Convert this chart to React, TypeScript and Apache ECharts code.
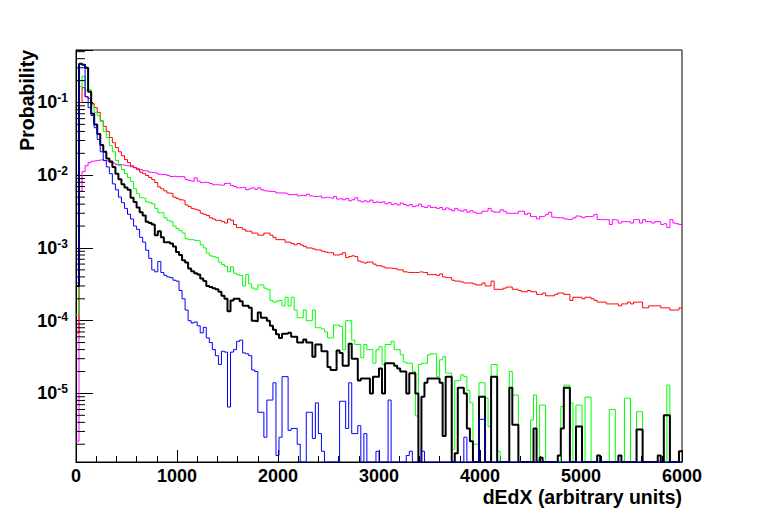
import React, { useEffect, useRef } from "react";
import * as echarts from "echarts";

// Histogram binning (x in arbitrary dEdX units)
const BIN_WIDTH = 30;
const X_MIN = 0;
const X_MAX = 6000;
const X_TICK_INTERVAL = 1000;
const Y_MIN = 1.14e-6;
const Y_MAX = 0.527;

const xTitle = "dEdX (arbitrary units)";
const yTitle = "Probability";

// Probability per bin (200 bins of 30 units); 0 = empty bin
const magentaValues = [
  2.2e-6, 6.0e-3, 1.12e-2, 1.35e-2, 1.49e-2, 1.56e-2, 1.59e-2, 1.61e-2, 1.64e-2, 1.59e-2,
  1.56e-2, 1.49e-2, 1.46e-2, 1.40e-2, 1.40e-2, 1.38e-2, 1.35e-2, 1.33e-2, 1.30e-2, 1.27e-2,
  1.23e-2, 1.19e-2, 1.15e-2, 1.14e-2, 1.10e-2, 1.08e-2, 1.07e-2, 1.03e-2, 1.02e-2, 1.02e-2,
  9.9e-3, 9.6e-3, 9.7e-3, 9.5e-3, 9.6e-3, 9.5e-3, 8.7e-3, 8.5e-3, 8.3e-3, 9.2e-3,
  8.3e-3, 7.9e-3, 8.0e-3, 7.9e-3, 7.7e-3, 7.4e-3, 7.4e-3, 7.3e-3, 7.3e-3, 7.7e-3,
  7.8e-3, 7.2e-3, 7.0e-3, 6.7e-3, 6.8e-3, 6.8e-3, 6.3e-3, 6.5e-3, 6.7e-3, 6.4e-3,
  6.7e-3, 6.3e-3, 6.1e-3, 6.0e-3, 6.0e-3, 5.9e-3, 5.7e-3, 5.7e-3, 5.7e-3, 5.6e-3,
  5.4e-3, 5.4e-3, 5.5e-3, 5.2e-3, 5.3e-3, 5.2e-3, 5.5e-3, 5.2e-3, 5.1e-3, 5.1e-3,
  5.2e-3, 4.9e-3, 5.0e-3, 4.9e-3, 4.8e-3, 5.1e-3, 4.7e-3, 4.8e-3, 4.6e-3, 4.8e-3,
  4.45e-3, 4.6e-3, 4.9e-3, 4.45e-3, 4.3e-3, 4.45e-3, 4.3e-3, 4.55e-3, 4.2e-3, 4.3e-3,
  4.2e-3, 4.3e-3, 4.05e-3, 4.2e-3, 3.95e-3, 4.05e-3, 3.9e-3, 4.15e-3, 3.95e-3, 3.8e-3,
  3.95e-3, 3.7e-3, 3.8e-3, 4.0e-3, 3.7e-3, 3.6e-3, 3.8e-3, 3.6e-3, 3.65e-3, 3.5e-3,
  3.6e-3, 3.35e-3, 3.55e-3, 3.4e-3, 3.25e-3, 3.5e-3, 3.3e-3, 3.2e-3, 3.35e-3, 3.1e-3,
  3.25e-3, 3.1e-3, 3.0e-3, 3.0e-3, 3.2e-3, 3.2e-3, 3.5e-3, 3.2e-3, 3.1e-3, 3.1e-3,
  3.35e-3, 3.2e-3, 3.0e-3, 3.0e-3, 3.0e-3, 3.0e-3, 3.2e-3, 3.2e-3, 2.9e-3, 3.0e-3,
  2.7e-3, 2.7e-3, 2.5e-3, 2.7e-3, 2.75e-3, 2.9e-3, 3.1e-3, 2.65e-3, 2.6e-3, 2.6e-3,
  2.6e-3, 2.5e-3, 2.45e-3, 2.5e-3, 2.6e-3, 2.75e-3, 2.7e-3, 2.6e-3, 2.7e-3, 2.7e-3,
  2.75e-3, 2.9e-3, 2.45e-3, 2.45e-3, 2.45e-3, 2.45e-3, 2.1e-3, 2.45e-3, 2.4e-3, 2.2e-3,
  2.3e-3, 2.3e-3, 2.3e-3, 2.2e-3, 2.45e-3, 2.45e-3, 2.2e-3, 2.45e-3, 2.3e-3, 2.3e-3,
  2.2e-3, 2.3e-3, 2.3e-3, 2.1e-3, 2.15e-3, 1.9e-3, 2.45e-3, 2.2e-3, 2.15e-3, 2.1e-3,
];

const redValues = [
  6.8e-5, 0.10, 0.16, 0.12, 0.113, 0.097, 0.085, 0.073, 0.056, 0.047,
  0.040, 0.033, 0.028, 0.024, 0.021, 0.0185, 0.0164, 0.0149, 0.0135, 0.0127,
  0.0119, 0.0110, 0.0105, 0.0099, 0.0093, 0.0087, 0.0079, 0.0069, 0.0065, 0.0061,
  0.0057, 0.0056, 0.0050, 0.0048, 0.0046, 0.0045, 0.0039, 0.0037, 0.0035, 0.0034,
  0.0033, 0.0030, 0.0029, 0.0028, 0.0026, 0.0025, 0.0024, 0.0024, 0.0023, 0.0022,
  0.0025, 0.0024, 0.0021, 0.0019, 0.0019, 0.0018, 0.0017, 0.0017, 0.0016, 0.0016,
  0.0015, 0.0015, 0.0016, 0.0016, 0.0015, 0.0014, 0.0013, 0.0013, 0.0013, 0.0012,
  0.0012, 0.00115, 0.0011, 0.00115, 0.0011, 0.00105, 0.0010, 0.0010, 0.00097, 0.00094,
  0.00094, 0.00090, 0.00088, 0.00086, 0.00086, 0.00080, 0.00080, 0.00082, 0.00086, 0.00074,
  0.00076, 0.00078, 0.00076, 0.00066, 0.00064, 0.00062, 0.00064, 0.00064, 0.00060, 0.00057,
  0.00057, 0.00055, 0.00053, 0.00053, 0.00052, 0.00052, 0.00050, 0.00050, 0.00047, 0.00046,
  0.00046, 0.00046, 0.00046, 0.00047, 0.00046, 0.00046, 0.00043, 0.00043, 0.00043, 0.00042,
  0.00044, 0.00040, 0.00039, 0.00039, 0.00036, 0.00035, 0.00035, 0.00034, 0.00033, 0.00033,
  0.00033, 0.00032, 0.00031, 0.00031, 0.00033, 0.00030, 0.00030, 0.00035, 0.00027, 0.00027,
  0.00027, 0.00028, 0.00029, 0.00029, 0.00027, 0.00027, 0.00026, 0.00025, 0.00025, 0.00026,
  0.00025, 0.00025, 0.00023, 0.00023, 0.00024, 0.00022, 0.00022, 0.00022, 0.00023, 0.00024,
  0.00024, 0.00023, 0.00023, 0.00019, 0.00021, 0.00021, 0.00021, 0.00020, 0.00021, 0.00021,
  0.00020, 0.00019, 0.00018, 0.00018, 0.00018, 0.00017, 0.00017, 0.00017, 0.00017, 0.00016,
  0.00017, 0.00017, 0.00018, 0.00017, 0.00018, 0.00018, 0.00018, 0.00015, 0.00015, 0.00016,
  0.00016, 0.00016, 0.00016, 0.00015, 0.00015, 0.00015, 0.00014, 0.00014, 0.00014, 0.00015,
];

const greenValues = [
  1.2e-4, 0.165, 0.23, 0.15, 0.15, 0.094, 0.073, 0.066, 0.055, 0.040,
  0.033, 0.0255, 0.021, 0.016, 0.0135, 0.012, 0.0105, 0.0093, 0.0082, 0.0065,
  0.0056, 0.0049, 0.0048, 0.0043, 0.0042, 0.00405, 0.0035, 0.00305, 0.00305, 0.0026,
  0.0024, 0.0023, 0.0020, 0.00185, 0.00173, 0.0016, 0.00134, 0.0013, 0.0013, 0.00127,
  0.00125, 0.0011, 0.0010, 0.00085, 0.00078, 0.00076, 0.00074, 0.00064, 0.00059, 0.00056,
  0.00047, 0.00055, 0.00045, 0.00043, 0.00042, 0.00030, 0.00043, 0.00032, 0.00028, 0.00027,
  0.00031, 0.00031, 0.00028, 0.00027, 0.00019, 0.00018, 0.000185, 0.00019, 0.00016, 0.00021,
  0.00016, 0.00021, 0.00014, 0.00011, 0.00011, 0.00014, 0.00010, 0.00010, 0.00014, 8.0e-5,
  8.0e-5, 7.7e-5, 7.0e-5, 5.8e-5, 5.8e-5, 8.7e-5, 8.7e-5, 8.3e-5, 4.0e-5, 1.0e-4,
  1.0e-4, 5.4e-5, 4.7e-5, 4.7e-5, 3.1e-5, 4.7e-5, 4.0e-5, 4.0e-5, 2.6e-5, 4.0e-5,
  4.4e-5, 2.5e-5, 4.7e-5, 4.7e-5, 5.2e-5, 4.0e-5, 4.0e-5, 3.4e-5, 2.7e-5, 2.6e-5,
  2.6e-5, 2.0e-5, 4.9e-6, 2.5e-5, 2.6e-5, 2.6e-5, 3.4e-5, 3.5e-5, 3.5e-5, 1.7e-5,
  2.9e-5, 3.2e-5, 1.9e-5, 1.9e-5, 1.7e-6, 1.5e-5, 1.5e-5, 1.8e-5, 1.7e-5, 1.1e-5,
  7.4e-6, 2.0e-6, 2.0e-6, 1.4e-5, 1.4e-5, 8.6e-6, 3.5e-6, 2.5e-5, 2.5e-5, 1.6e-6,
  0, 0, 0, 2.0e-5, 9.5e-6, 9.5e-6, 0, 0, 0, 0,
  4.3e-6, 9.5e-6, 0, 6.9e-6, 6.9e-6, 0, 0, 0, 0, 0,
  6.6e-6, 1.3e-5, 1.3e-5, 7.4e-6, 0, 6.9e-6, 6.9e-6, 0, 8.9e-6, 8.9e-6,
  0, 0, 0, 0, 0, 0, 6.0e-6, 6.0e-6, 0, 0,
  0, 8.6e-6, 8.6e-6, 0, 0, 5.6e-6, 5.6e-6, 0, 0, 0,
  0, 0, 0, 0, 0, 1.3e-5, 0, 0, 0, 0,
];

const blackValues = [
  3.0e-4, 0.34, 0.33, 0.30, 0.14, 0.07, 0.05, 0.037, 0.026, 0.021,
  0.017, 0.0155, 0.013, 0.0105, 0.0088, 0.0075, 0.0068, 0.0063, 0.0049, 0.0043,
  0.0036, 0.0031, 0.0028, 0.0023, 0.0022, 0.0021, 0.0015, 0.0017, 0.0014, 0.0012,
  0.0012, 0.00115, 0.00105, 0.00088, 0.00080, 0.00068, 0.00063, 0.00052, 0.00048, 0.00045,
  0.00043, 0.00038, 0.00035, 0.00030, 0.00029, 0.00028, 0.00027, 0.00025, 0.00022, 0.00020,
  0.000135, 0.00019, 0.00020, 0.00020, 0.000185, 0.00016, 0.00016, 0.00015, 0.00010, 9.8e-5,
  0.00013, 0.00011, 0.00011, 0.00010, 8.5e-5, 7.5e-5, 6.5e-5, 5.8e-5, 6.6e-5, 6.6e-5,
  6.8e-5, 6.0e-5, 6.0e-5, 5.0e-5, 5.0e-5, 5.5e-5, 5.0e-5, 5.0e-5, 3.2e-5, 4.7e-5,
  4.7e-5, 3.8e-5, 3.8e-5, 2.3e-5, 2.1e-5, 2.1e-5, 3.9e-5, 3.6e-5, 2.4e-5, 2.4e-5,
  4.8e-5, 3.0e-5, 3.0e-5, 1.5e-5, 1.6e-5, 1.6e-5, 1.6e-5, 1.0e-5, 1.7e-5, 1.7e-5,
  2.2e-5, 1.0e-5, 2.6e-5, 2.6e-5, 2.6e-5, 2.4e-5, 2.2e-5, 2.0e-5, 2.0e-5, 1.0e-5,
  1.9e-5, 1.9e-5, 1.0e-5, 0, 9.0e-6, 1.4e-5, 1.6e-5, 1.6e-5, 1.6e-5, 1.6e-5,
  1.4e-5, 2.6e-6, 1.7e-5, 1.7e-5, 0, 1.5e-6, 1.2e-5, 1.2e-5, 1.0e-5, 3.3e-6,
  2.2e-6, 0, 0, 9.0e-6, 9.0e-6, 0, 0, 1.7e-5, 1.7e-5, 0,
  0, 0, 0, 1.2e-5, 3.7e-6, 3.7e-6, 0, 0, 0, 0,
  0, 3.3e-6, 0, 1.3e-6, 0, 0, 0, 0, 0, 1.4e-6,
  3.3e-6, 1.2e-5, 1.2e-5, 0, 0, 3.5e-6, 3.5e-6, 0, 0, 0,
  0, 0, 1.4e-6, 0, 0, 0, 0, 0, 0, 1.4e-6,
  0, 0, 0, 0, 0, 3.2e-6, 3.2e-6, 0, 0, 0,
  0, 0, 1.4e-6, 0, 5.0e-6, 5.0e-6, 0, 0, 0, 1.6e-6,
];

const blueValues = [
  3.3e-4, 0.34, 0.33, 0.12, 0.085, 0.066, 0.045, 0.031, 0.021, 0.016,
  0.013, 0.0105, 0.0076, 0.0063, 0.0050, 0.0042, 0.0035, 0.0029, 0.0025, 0.0020,
  0.0018, 0.0014, 0.0012, 0.00093, 0.00072, 0.00050, 0.00047, 0.00065, 0.00046, 0.00042,
  0.00040, 0.00039, 0.00036, 0.00035, 0.00026, 0.00020, 0.00014, 0.00010, 9.3e-5, 9.6e-5,
  8.5e-5, 6.8e-5, 8.1e-5, 5.8e-5, 5.0e-5, 4.0e-5, 3.3e-5, 2.5e-5, 3.8e-5, 3.7e-5,
  6.5e-6, 3.7e-5, 4.0e-5, 5.2e-5, 5.4e-5, 3.6e-5, 3.5e-5, 3.3e-5, 2.1e-5, 2.0e-5,
  5.5e-6, 5.5e-6, 2.5e-6, 8.1e-6, 8.1e-6, 1.4e-5, 1.4e-6, 2.5e-6, 1.7e-5, 1.7e-5,
  3.1e-6, 3.3e-6, 3.3e-6, 2.0e-6, 0, 0, 5.5e-6, 5.5e-6, 2.4e-6, 7.4e-6,
  2.8e-6, 1.6e-6, 0, 0, 0, 0, 0, 7.8e-6, 7.8e-6, 3.3e-6,
  1.4e-5, 2.8e-6, 2.8e-6, 3.6e-6, 0, 2.8e-6, 0, 0, 0, 1.6e-6,
  0, 0, 0, 8.1e-6, 0, 0, 0, 0, 0, 1.4e-6,
  1.6e-6, 0, 0, 0, 1.6e-6, 0, 0, 0, 0, 0,
  0, 0, 0, 0, 0, 0, 0, 0, 2.5e-6, 0,
  0, 0, 0, 4.4e-6, 4.4e-6, 0, 0, 0, 0, 0,
  0, 0, 0, 0, 0, 0, 0, 0, 0, 0,
  0, 0, 0, 0, 0, 0, 0, 0, 0, 0,
  0, 0, 0, 0, 0, 0, 0, 0, 0, 0,
  0, 0, 0, 0, 0, 0, 0, 0, 0, 0,
  0, 0, 0, 0, 0, 0, 0, 0, 0, 0,
  0, 0, 0, 0, 0, 0, 0, 0, 0, 0,
];

const seriesDefs = [
  { name: "magenta", values: magentaValues, color: "#ff00ff", width: 1 },
  { name: "red", values: redValues, color: "#ff0000", width: 1 },
  { name: "green", values: greenValues, color: "#00ff00", width: 1 },
  { name: "black", values: blackValues, color: "#000000", width: 2 },
  { name: "blue", values: blueValues, color: "#0000ff", width: 1 },
];

const FONT = '"Liberation Sans", Arial, Helvetica, sans-serif';

// Step-line points: left edge of each bin, plus closing point at the last right edge
function toSteps(values: number[]): number[][] {
  const pts = values.map((v, i) => [X_MIN + i * BIN_WIDTH, v > 0 ? v : Y_MIN]);
  const last = values[values.length - 1];
  pts.push([X_MIN + values.length * BIN_WIDTH, last > 0 ? last : Y_MIN]);
  return pts;
}

// log-scale minor ticks (2..9 x 10^n) inside the y range
function minorTickValues(): number[][] {
  const out: number[][] = [];
  const e0 = Math.floor(Math.log10(Y_MIN));
  const e1 = Math.ceil(Math.log10(Y_MAX));
  for (let e = e0; e <= e1; e++) {
    for (let m = 2; m <= 9; m++) {
      const v = m * Math.pow(10, e);
      if (v > Y_MIN && v < Y_MAX) out.push([X_MIN, v]);
    }
  }
  return out;
}

export default function App() {
  const ref = useRef<HTMLDivElement>(null);

  useEffect(() => {
    if (!ref.current) return;
    const chart = echarts.init(ref.current, null, { renderer: "svg" });

    const lineSeries = seriesDefs.map((s, idx) => ({
      name: s.name,
      type: "line",
      step: "end",
      data: toSteps(s.values),
      symbol: "none",
      showSymbol: false,
      clip: true,
      silent: true,
      z: 2 + idx,
      lineStyle: { color: s.color, width: s.width },
      itemStyle: { color: s.color },
    }));

    const minorTicks = {
      type: "custom",
      silent: true,
      clip: false,
      z: 10,
      data: minorTickValues(),
      renderItem: (params: any, api: any) => {
        const p = api.coord([api.value(0), api.value(1)]);
        return {
          type: "line",
          shape: { x1: p[0], y1: p[1], x2: p[0] + 9, y2: p[1] },
          style: { stroke: "#000", lineWidth: 1 },
        };
      },
    };

    chart.setOption({
      animation: false,
      backgroundColor: "#ffffff",
      grid: {
        left: 76,
        right: 76,
        top: 50,
        bottom: 52,
        containLabel: false,
        outerBoundsMode: "none",
        show: true,
        borderColor: "#000",
        borderWidth: 1,
        backgroundColor: "transparent",
      },
      xAxis: {
        type: "value",
        min: X_MIN,
        max: X_MAX,
        interval: X_TICK_INTERVAL,
        name: xTitle,
        nameLocation: "end",
        nameGap: 0,
        nameMoveOverlap: false,
        nameTextStyle: {
          fontFamily: FONT,
          fontWeight: "bold",
          fontSize: 19.5,
          lineHeight: 20,
          color: "#000",
          align: "right",
          verticalAlign: "top",
          padding: [25, 0, 0, 0],
        },
        axisLine: { show: true, lineStyle: { color: "#000", width: 1 } },
        axisTick: { show: true, inside: true, length: 12, lineStyle: { color: "#000" } },
        minorTick: { show: true, splitNumber: 5, length: 6, lineStyle: { color: "#000" } },
        splitLine: { show: false },
        axisLabel: {
          margin: 6,
          formatter: (v: number) => String(v),
          fontFamily: FONT,
          fontWeight: "bold",
          fontSize: 18,
          lineHeight: 16,
          color: "#000",
        },
      },
      yAxis: {
        type: "log",
        logBase: 10,
        min: Y_MIN,
        max: Y_MAX,
        axisLine: { show: true, lineStyle: { color: "#000", width: 1 } },
        axisTick: { show: true, inside: true, length: 17, lineStyle: { color: "#000" } },
        splitLine: { show: false },
        axisLabel: {
          margin: 8,
          formatter: (v: number) => {
            const e = Math.log10(v);
            const r = Math.round(e);
            if (Math.abs(e - r) > 1e-6) return "";
            return `{b|10}{s|${r}}`;
          },
          rich: {
            b: { fontFamily: FONT, fontWeight: "bold", fontSize: 18, color: "#000", lineHeight: 20 },
            s: { fontFamily: FONT, fontWeight: "bold", fontSize: 12, color: "#000", verticalAlign: "top", lineHeight: 12 },
          },
        },
      },
      graphic: [
        {
          type: "text",
          x: 27,
          y: 50,
          rotation: Math.PI / 2,
          style: {
            text: yTitle,
            font: `bold 19.5px ${FONT}`,
            fill: "#000",
            align: "right",
            verticalAlign: "middle",
          },
        },
      ],
      series: [...lineSeries, minorTicks],
    });

    return () => chart.dispose();
  }, []);

  return (
    <div
      ref={ref}
      style={{ position: "absolute", left: 0, top: 0, width: 758, height: 514, background: "#fff" }}
    />
  );
}
